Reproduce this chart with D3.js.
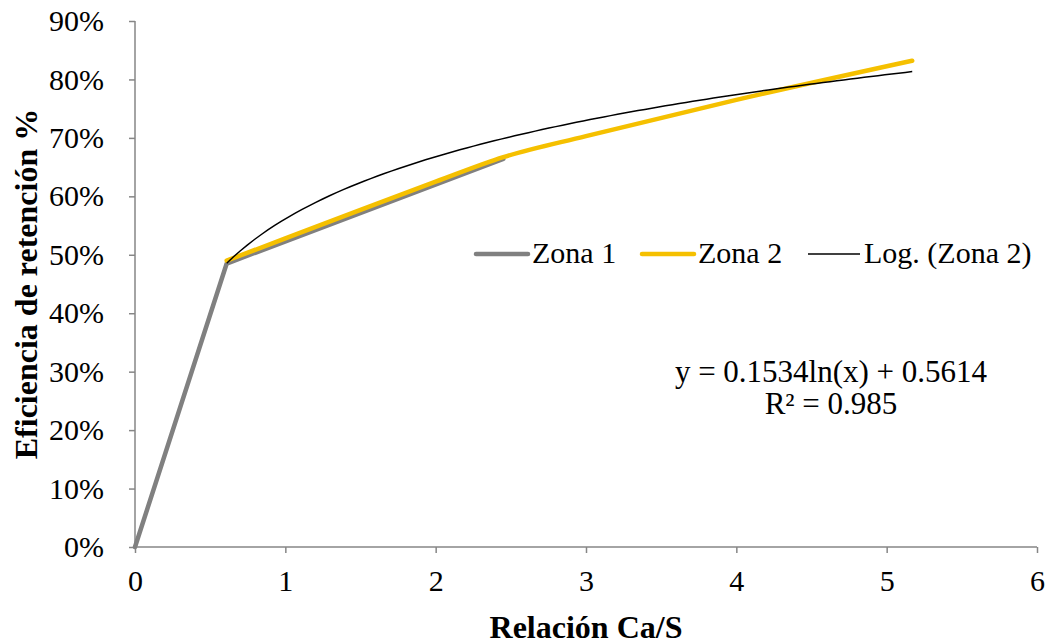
<!DOCTYPE html>
<html>
<head>
<meta charset="utf-8">
<script src="https://cdn.jsdelivr.net/npm/d3@7"></script>
<style>
  body { margin: 0; background: #fff; }
  svg text { font-family: 'Liberation Serif', 'Times New Roman', serif; }
</style>
</head>
<body>
<div id="chart"></div>
<script>

// Data
const zona1X = [0, 0.61, 2.45];
const zona1Y = [0, 0.485, 0.664];
const zona2X = [0.61, 1.0, 1.5, 2.0, 2.45, 3.0, 4.0, 5.17];
const zona2Y = [0.49, 0.528, 0.577, 0.625, 0.667, 0.703, 0.765, 0.832];
const trendCoef = [0.1534, 0.5614]; // y = a ln(x) + b
const trendR2 = 0.985;
const xTicks = [0, 1, 2, 3, 4, 5, 6];
const yTicks = [0, 0.1, 0.2, 0.3, 0.4, 0.5, 0.6, 0.7, 0.8, 0.9];
const legendLabels = ['Zona 1', 'Zona 2', 'Log. (Zona 2)'];

const width = 1050, height = 644;
const margin = { top: 21, right: 13, bottom: 97, left: 135 };
const fs = 30;

const svg = d3.select('#chart')
  .append('svg')
  .attr('width', width)
  .attr('height', height);

const x = d3.scaleLinear().domain([0, 6]).range([margin.left, width - margin.right]);
const y = d3.scaleLinear().domain([0, 0.9]).range([height - margin.bottom, margin.top]);

const axisColor = '#868686';

// axes
const xAxis = svg.append('g')
  .attr('transform', `translate(0,${y(0)})`)
  .call(d3.axisBottom(x).tickValues(xTicks).tickFormat(d3.format('d')).tickSize(6).tickPadding(17));

const yAxis = svg.append('g')
  .attr('transform', `translate(${x(0)},0)`)
  .call(d3.axisLeft(y).tickValues(yTicks).tickFormat(d3.format('.0%')).tickSize(6).tickPadding(25));

[xAxis, yAxis].forEach(g => {
  g.attr('font-size', fs).attr('font-family', null);
  g.select('.domain').attr('stroke', axisColor).attr('stroke-width', 1.5);
  g.selectAll('.tick line').attr('stroke', axisColor).attr('stroke-width', 1.5);
  g.selectAll('.tick text').attr('fill', '#000');
});
xAxis.select('.domain').attr('d', `M${x(0)},0H${x(6)}`);
yAxis.select('.domain').attr('d', `M0,${y(0.9)}V${y(0)}`);

// series
const zona1 = zona1X.map((v, i) => [v, zona1Y[i]]);
const zona2 = zona2X.map((v, i) => [v, zona2Y[i]]);

svg.append('path')
  .datum(zona1)
  .attr('fill', 'none')
  .attr('stroke', '#808080')
  .attr('stroke-width', 4.5)
  .attr('stroke-linejoin', 'round')
  .attr('stroke-linecap', 'round')
  .attr('d', d3.line().x(d => x(d[0])).y(d => y(d[1])));

svg.append('path')
  .datum(zona2)
  .attr('fill', 'none')
  .attr('stroke', '#F5C000')
  .attr('stroke-width', 4.5)
  .attr('stroke-linejoin', 'round')
  .attr('stroke-linecap', 'round')
  .attr('d', d3.line().x(d => x(d[0])).y(d => y(d[1])).curve(d3.curveMonotoneX));

// log trendline across zona 2 range
const xs = d3.range(0, 101).map(i => zona2X[0] + (zona2X[zona2X.length - 1] - zona2X[0]) * i / 100);
const trend = xs.map(v => [v, trendCoef[0] * Math.log(v) + trendCoef[1]]);

svg.append('path')
  .datum(trend)
  .attr('fill', 'none')
  .attr('stroke', '#000')
  .attr('stroke-width', 1.5)
  .attr('d', d3.line().x(d => x(d[0])).y(d => y(d[1])));

// legend
const legendItems = [
  { label: legendLabels[0], color: '#808080', w: 4.5, x: 474 },
  { label: legendLabels[1], color: '#F5C000', w: 4.5, x: 640 },
  { label: legendLabels[2], color: '#000', w: 1.5, x: 806 }
];
const legendY = 254;
const legend = svg.append('g');
legendItems.forEach(item => {
  legend.append('line')
    .attr('x1', item.x + 2).attr('x2', item.x + 54)
    .attr('y1', legendY).attr('y2', legendY)
    .attr('stroke', item.color)
    .attr('stroke-width', item.w)
    .attr('stroke-linecap', item.w > 2 ? 'round' : 'butt');
  legend.append('text')
    .attr('x', item.x + 58)
    .attr('y', legendY + 9)
    .attr('font-size', fs)
    .text(item.label);
});

// equation label
svg.append('text')
  .attr('x', 831).attr('y', 382)
  .attr('text-anchor', 'middle')
  .attr('font-size', fs + 1)
  .text(`y = ${trendCoef[0]}ln(x) + ${trendCoef[1]}`);
svg.append('text')
  .attr('x', 831).attr('y', 414)
  .attr('text-anchor', 'middle')
  .attr('font-size', fs + 1)
  .text(`R² = ${trendR2}`);

// axis titles
svg.append('text')
  .attr('x', 586).attr('y', 638)
  .attr('text-anchor', 'middle')
  .attr('font-size', 32)
  .attr('font-weight', 'bold')
  .text('Relación Ca/S');

svg.append('text')
  .attr('transform', `translate(37,${(y(0) + y(0.9)) / 2}) rotate(-90)`)
  .attr('text-anchor', 'middle')
  .attr('font-size', 32)
  .attr('font-weight', 'bold')
  .text('Eficiencia de retención %');

</script>
</body>
</html>
